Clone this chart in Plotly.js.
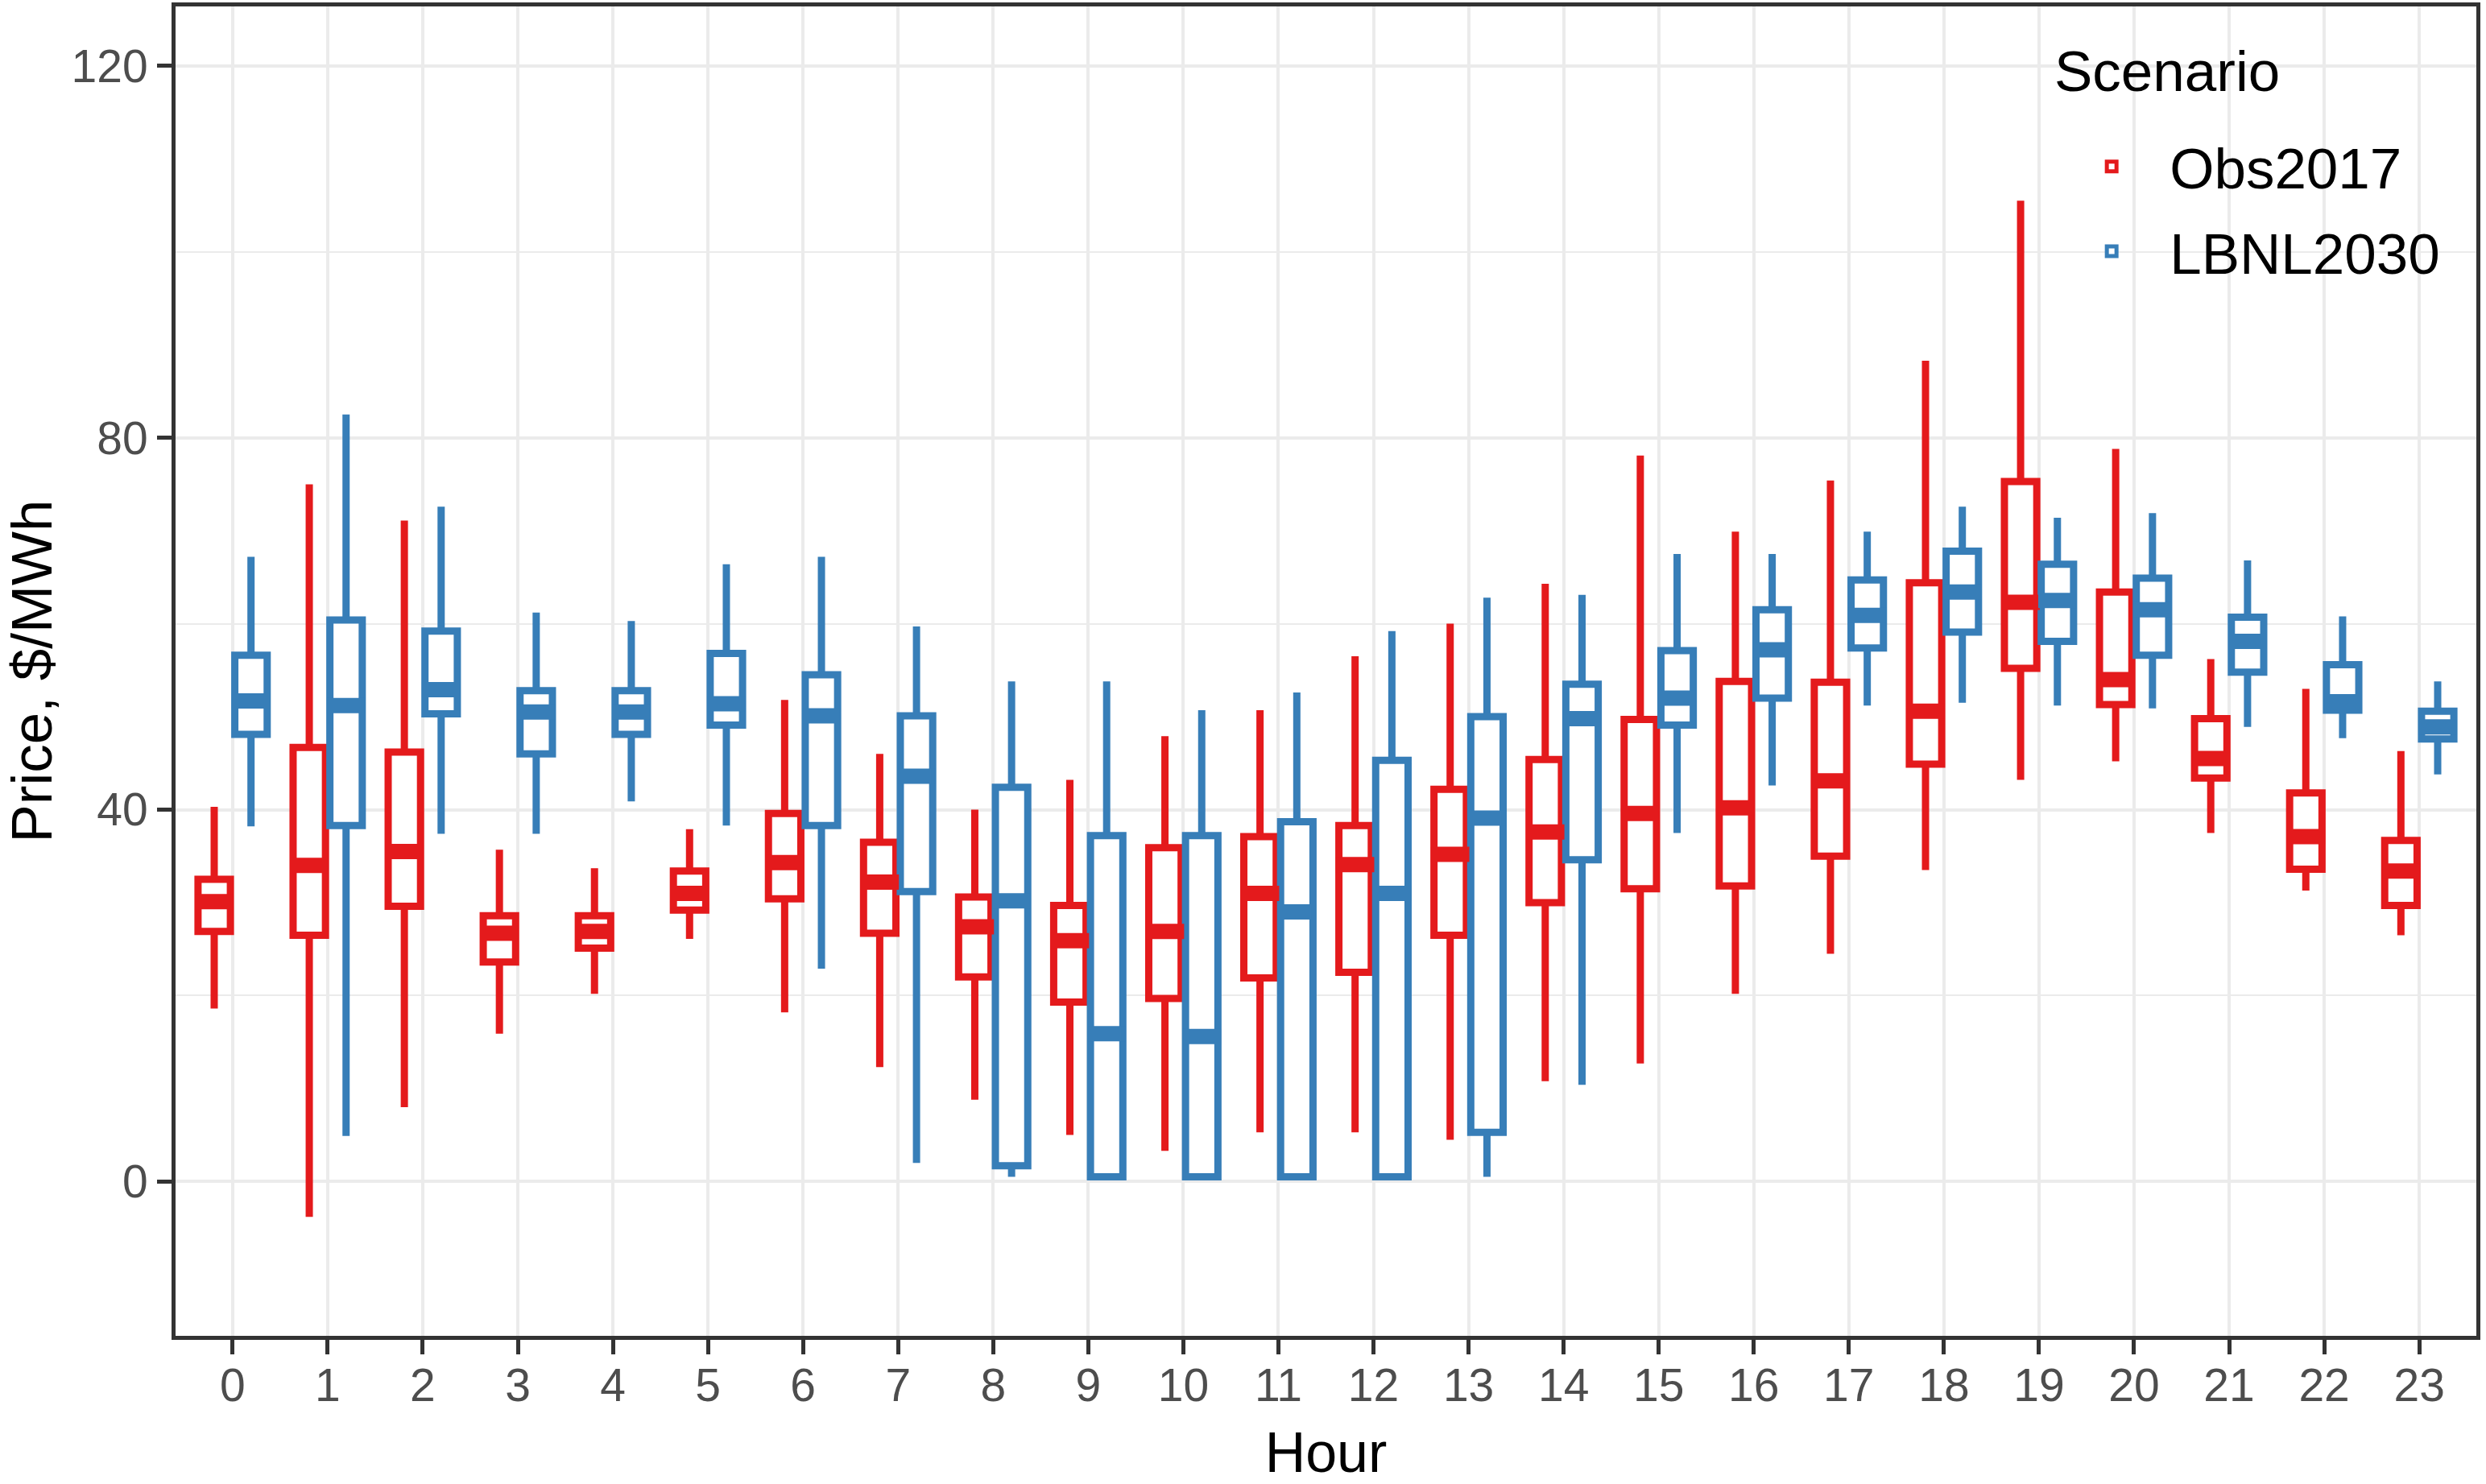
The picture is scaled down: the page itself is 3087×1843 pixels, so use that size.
<!DOCTYPE html>
<html><head><meta charset="utf-8">
<script src="https://cdn.plot.ly/plotly-3.0.1.min.js"></script>
<style>html,body{margin:0;padding:0;background:#fff}#chart{width:3087px;height:1843px}</style>
</head><body><div id="chart"></div>
<script>
const hours = ['0','1','2','3','4','5','6','7','8','9','10','11','12','13','14','15','16','17','18','19','20','21','22','23'];

// Obs2017
const obsLow  = [18.6, -3.8, 8.0, 15.9, 20.2, 26.1, 18.2, 12.3, 8.8, 5.0, 3.3, 5.3, 5.3, 4.5, 10.8, 12.7, 20.2, 24.5, 33.5, 43.2, 45.2, 37.5, 31.3, 26.5];
const obsQ1   = [26.9, 26.5, 29.6, 23.6, 25.1, 29.2, 30.4, 26.7, 22.0, 19.3, 19.7, 21.9, 22.5, 26.5, 30.0, 31.5, 31.8, 35.0, 44.9, 55.2, 51.3, 43.4, 33.6, 29.7];
const obsMed  = [30.1, 34.0, 35.5, 26.7, 26.9, 31.0, 34.3, 32.2, 27.4, 25.9, 26.9, 31.0, 34.1, 35.2, 37.6, 39.6, 40.2, 43.1, 50.6, 62.3, 54.0, 45.5, 37.1, 33.4];
const obsQ3   = [32.5, 46.7, 46.2, 28.6, 28.6, 33.4, 39.6, 36.5, 30.6, 29.7, 35.9, 37.1, 38.3, 42.2, 45.4, 49.7, 53.8, 53.7, 64.4, 75.3, 63.4, 49.8, 41.8, 36.7];
const obsHigh = [40.3, 75.0, 71.1, 35.7, 33.7, 37.9, 51.8, 46.0, 40.0, 43.2, 47.9, 50.7, 56.5, 60.0, 64.3, 78.1, 69.9, 75.4, 88.3, 105.5, 78.8, 56.2, 53.0, 46.3];

// LBNL2030
const lbnlLow  = [38.2, 4.9, 37.4, 37.4, 40.9, 38.3, 22.9, 2.0, 0.5, 0.3, 0.3, 0.3, 0.3, 0.5, 10.4, 37.5, 42.6, 51.2, 51.5, 51.2, 50.9, 48.9, 47.7, 43.8];
const lbnlQ1   = [48.1, 38.3, 50.3, 46.0, 48.1, 49.1, 38.3, 31.2, 1.7, 0.5, 0.5, 0.5, 0.5, 5.3, 34.6, 49.1, 52.0, 57.4, 59.1, 58.1, 56.6, 54.8, 50.7, 47.6];
const lbnlMed  = [51.7, 51.2, 52.9, 50.5, 50.5, 51.4, 50.1, 43.6, 30.2, 15.9, 15.6, 29.0, 31.0, 39.1, 49.8, 52.0, 57.2, 60.9, 63.4, 62.5, 61.5, 58.1, 51.6, 48.9];
const lbnlQ3   = [56.6, 60.4, 59.2, 52.8, 52.8, 56.8, 54.5, 50.1, 42.4, 37.2, 37.2, 38.7, 45.3, 50.0, 53.5, 57.1, 61.5, 64.7, 67.8, 66.4, 64.9, 60.7, 55.6, 50.6];
const lbnlHigh = [67.2, 82.5, 72.6, 61.2, 60.3, 66.4, 67.2, 59.7, 53.8, 53.8, 50.7, 52.6, 59.2, 62.8, 63.1, 67.5, 67.5, 69.9, 72.6, 71.4, 71.9, 66.8, 60.8, 53.8];

const scenarios = ['Obs2017', 'LBNL2030'];
const legendTitle = 'Scenario';
const RED = '#E41A1C', BLUE = '#377EB8';

function boxTrace(name, color, low, q1, med, q3, high, grp) {
  return {type:'box', name:name, x:hours, q1:q1, median:med, q3:q3,
    lowerfence:low, upperfence:high, boxpoints:false,
    line:{color:color, width:9}, fillcolor:'white', whiskerwidth:0,
    offsetgroup:grp, alignmentgroup:'g', legendgroup:grp, hoverinfo:'skip'};
}
// thicker median bar (ggplot fatten) drawn from the same medians
function medTrace(color, med, grp) {
  return {type:'scatter', mode:'markers', x:hours, y:med, showlegend:false,
    marker:{symbol:'line-ew', size:34, color:color, line:{color:color, width:19}},
    offsetgroup:grp, alignmentgroup:'g', legendgroup:grp, hoverinfo:'skip'};
}

const data = [
  boxTrace(scenarios[0], RED, obsLow, obsQ1, obsMed, obsQ3, obsHigh, 'obs'),
  boxTrace(scenarios[1], BLUE, lbnlLow, lbnlQ1, lbnlMed, lbnlQ3, lbnlHigh, 'lbnl'),
  medTrace(RED, obsMed, 'obs'),
  medTrace(BLUE, lbnlMed, 'lbnl')
];

const axisCommon = {
  showgrid:true, gridcolor:'#EBEBEB', gridwidth:4,
  showline:true, mirror:true, linecolor:'#333333', linewidth:5,
  ticks:'outside', ticklen:18, tickwidth:5, tickcolor:'#333333',
  tickfont:{size:57, color:'#4D4D4D'}, zeroline:false, automargin:false
};

const layout = {
  width:3087, height:1843,
  margin:{l:218, r:12, t:8, b:184},
  paper_bgcolor:'white', plot_bgcolor:'white',
  font:{family:'"Liberation Sans", Arial, sans-serif', color:'#000'},
  boxmode:'group', boxgap:0.226, boxgroupgap:0.12,
  scattermode:'group', scattergap:0.226,
  xaxis: Object.assign({}, axisCommon, {
    type:'category', range:[-0.6, 23.6], ticklabelstandoff:-10,
    title:{text:'Hour', font:{size:70, color:'#000'}, standoff:32}
  }),
  yaxis: Object.assign({}, axisCommon, {
    range:[-16.6, 126.4], tick0:0, dtick:40,
    minor:{dtick:20, showgrid:true, gridcolor:'#EBEBEB', gridwidth:2, ticks:''},
    title:{text:'Price, $/MWh', font:{size:71, color:'#000'}, standoff:22}
  }),
  legend:{x:0.8163, y:0.9115, xanchor:'left', yanchor:'top', bgcolor:'rgba(0,0,0,0)',
    font:{size:71, color:'#000'}, itemwidth:134,
    traceorder:'grouped', tracegroupgap:10},
  annotations:[{text:legendTitle, xref:'paper', yref:'paper', x:0.816, y:0.951,
    xanchor:'left', yanchor:'middle', showarrow:false, font:{size:71, color:'#000'}}],
  showlegend:true
};

Plotly.newPlot('chart', data, layout, {displayModeBar:false, staticPlot:true});
</script>
</body></html>
